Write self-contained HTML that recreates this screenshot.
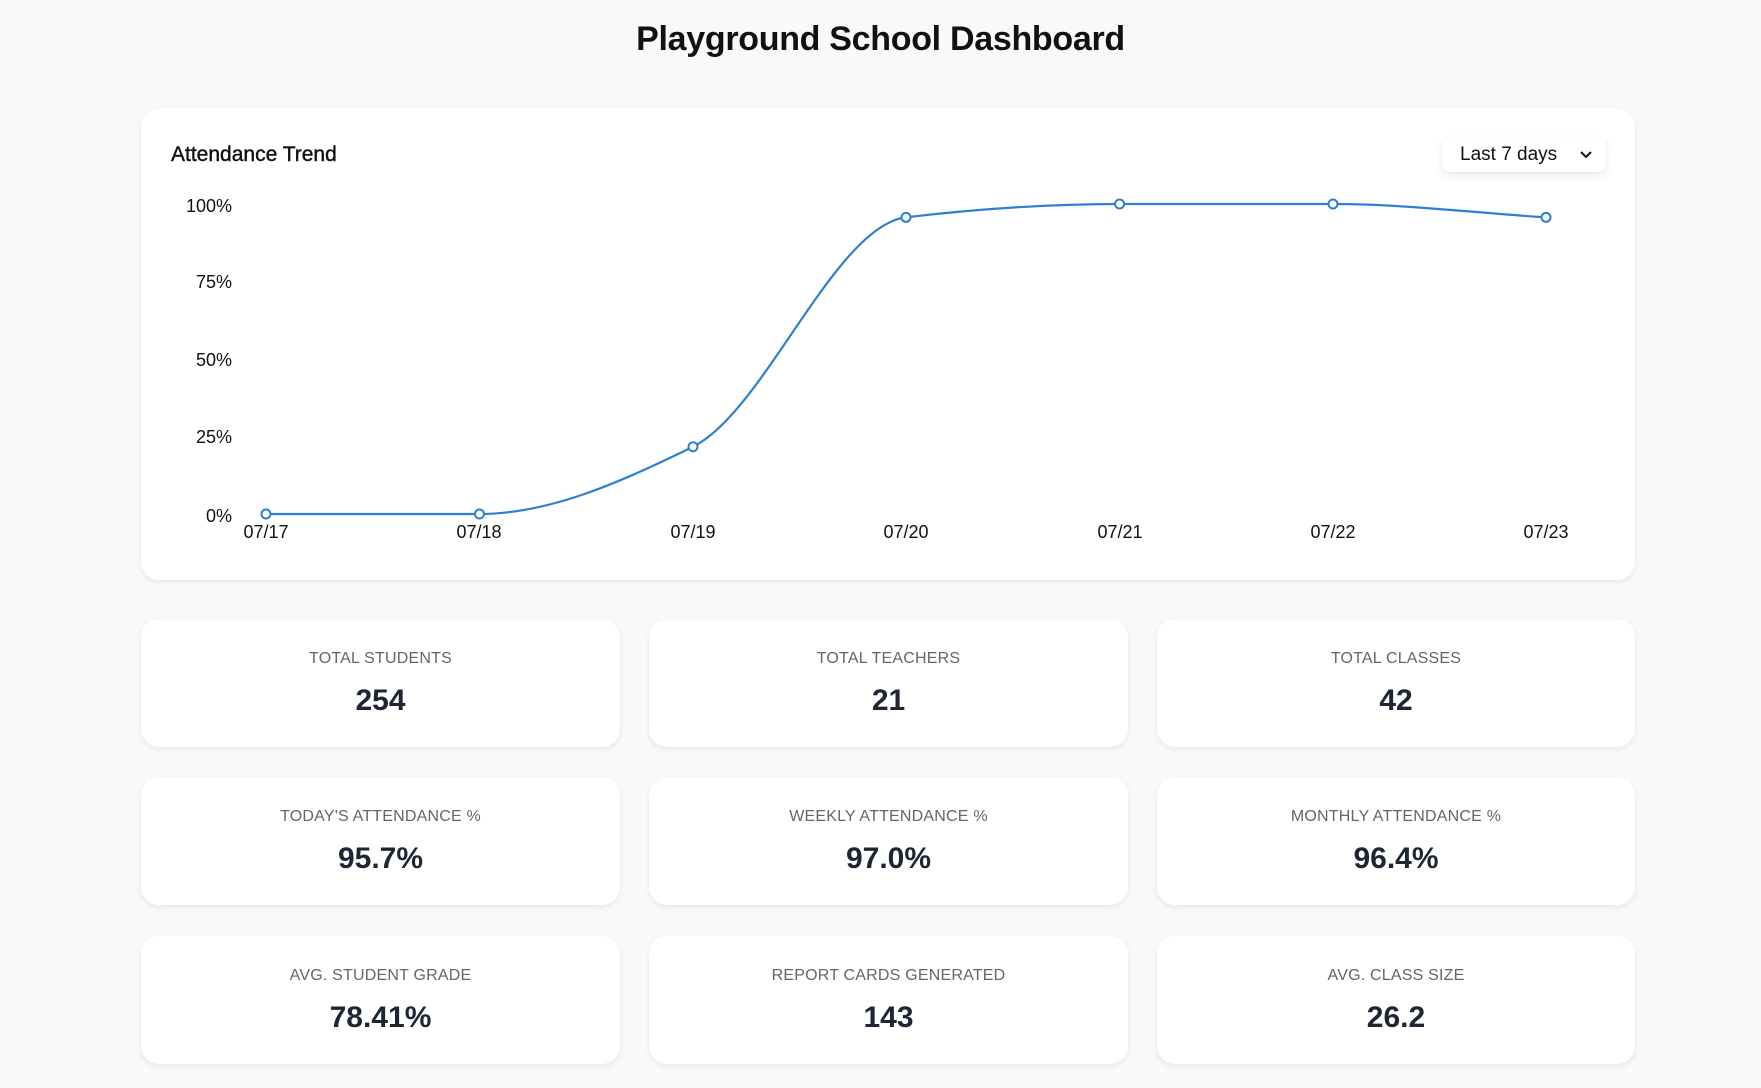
<!DOCTYPE html>
<html><head><meta charset="utf-8"><style>
*{box-sizing:border-box;margin:0;padding:0}
body{width:1761px;height:1088px;background:#f8f9fb;font-family:"Liberation Sans",sans-serif;position:relative;overflow:hidden}
h1{position:absolute;top:20px;left:0;width:1761px;text-align:center;font-size:34px;font-weight:bold;color:#111;letter-spacing:-0.3px}
.card{position:absolute;background:#fff;border-radius:18px;box-shadow:0 2px 6px rgba(0,0,0,0.08)}
.stat .l{position:absolute;top:31px;width:100%;text-align:center;font-size:16px;color:#5f6672;letter-spacing:0.2px}
.stat .v{position:absolute;top:65px;width:100%;text-align:center;font-size:30px;font-weight:bold;color:#1e2633}
</style></head><body>
<h1>Playground School Dashboard</h1>
<div class="card" style="left:141px;top:108px;width:1494px;height:472px"></div>
<div style="position:absolute;left:171px;top:143px;font-size:21px;color:#111;-webkit-text-stroke:0.4px #111">Attendance Trend</div>
<div style="position:absolute;left:1442px;top:137px;width:164px;height:35px;background:#fff;border-radius:8px;box-shadow:0 3px 8px rgba(0,0,0,0.1);font-size:19px;color:#111;padding:7px 0 0 18px">Last 7 days<svg style="position:absolute;right:14px;top:14px" width="12" height="8"><path d="M1 1 L6 6 L11 1" stroke="#111" stroke-width="2" fill="none"/></svg></div>
<svg width="1761" height="1088" style="position:absolute;left:0;top:0" id="ch">
<g font-family="Liberation Sans, sans-serif" font-size="18" fill="#111">
<text x="232" y="212" text-anchor="end">100%</text>
<text x="232" y="288" text-anchor="end">75%</text>
<text x="232" y="366" text-anchor="end">50%</text>
<text x="232" y="443" text-anchor="end">25%</text>
<text x="232" y="522" text-anchor="end">0%</text>
<g text-anchor="middle">
<text x="266" y="538">07/17</text><text x="479" y="538">07/18</text><text x="693" y="538">07/19</text><text x="906" y="538">07/20</text><text x="1120" y="538">07/21</text><text x="1333" y="538">07/22</text><text x="1546" y="538">07/23</text>
</g></g>
<path id="ln" fill="none" stroke="#2f7fd0" stroke-width="2.2"/>
<g id="pts"></g>
</svg>
<div class="card stat" style="left:141px;top:619px;width:479px;height:128px"><div class="l">TOTAL STUDENTS</div><div class="v">254</div></div>
<div class="card stat" style="left:649px;top:619px;width:479px;height:128px"><div class="l">TOTAL TEACHERS</div><div class="v">21</div></div>
<div class="card stat" style="left:1157px;top:619px;width:478px;height:128px"><div class="l">TOTAL CLASSES</div><div class="v">42</div></div>
<div class="card stat" style="left:141px;top:777px;width:479px;height:128px"><div class="l">TODAY'S ATTENDANCE %</div><div class="v">95.7%</div></div>
<div class="card stat" style="left:649px;top:777px;width:479px;height:128px"><div class="l">WEEKLY ATTENDANCE %</div><div class="v">97.0%</div></div>
<div class="card stat" style="left:1157px;top:777px;width:478px;height:128px"><div class="l">MONTHLY ATTENDANCE %</div><div class="v">96.4%</div></div>
<div class="card stat" style="left:141px;top:936px;width:479px;height:128px"><div class="l">AVG. STUDENT GRADE</div><div class="v">78.41%</div></div>
<div class="card stat" style="left:649px;top:936px;width:479px;height:128px"><div class="l">REPORT CARDS GENERATED</div><div class="v">143</div></div>
<div class="card stat" style="left:1157px;top:936px;width:478px;height:128px"><div class="l">AVG. CLASS SIZE</div><div class="v">26.2</div></div>
<script>
var xs=[266,479.5,693,906,1119.6,1333,1546],vals=[0,0,21.7,95.7,100,100,95.7];
var ys=vals.map(function(v){return 514-v*3.1;});
var n=xs.length,d=[],m=[];
for(var i=0;i<n-1;i++)d.push((ys[i+1]-ys[i])/(xs[i+1]-xs[i]));
m[0]=d[0];m[n-1]=d[n-2];
for(i=1;i<n-1;i++){if(d[i-1]*d[i]<=0)m[i]=0;else{var h0=xs[i]-xs[i-1],h1=xs[i+1]-xs[i];m[i]=3*(h0+h1)/((2*h1+h0)/d[i-1]+(h1+2*h0)/d[i]);}}
var p="M"+xs[0]+","+ys[0];
for(i=0;i<n-1;i++){var h=(xs[i+1]-xs[i])/3;p+=" C"+(xs[i]+h)+","+(ys[i]+m[i]*h)+" "+(xs[i+1]-h)+","+(ys[i+1]-m[i+1]*h)+" "+xs[i+1]+","+ys[i+1];}
document.getElementById("ln").setAttribute("d",p);
var g="";for(i=0;i<n;i++)g+='<circle cx="'+xs[i]+'" cy="'+ys[i]+'" r="4.5" fill="#fff" stroke="#2f7fd0" stroke-width="2"/>';
document.getElementById("pts").innerHTML=g;
</script>
</body></html>
